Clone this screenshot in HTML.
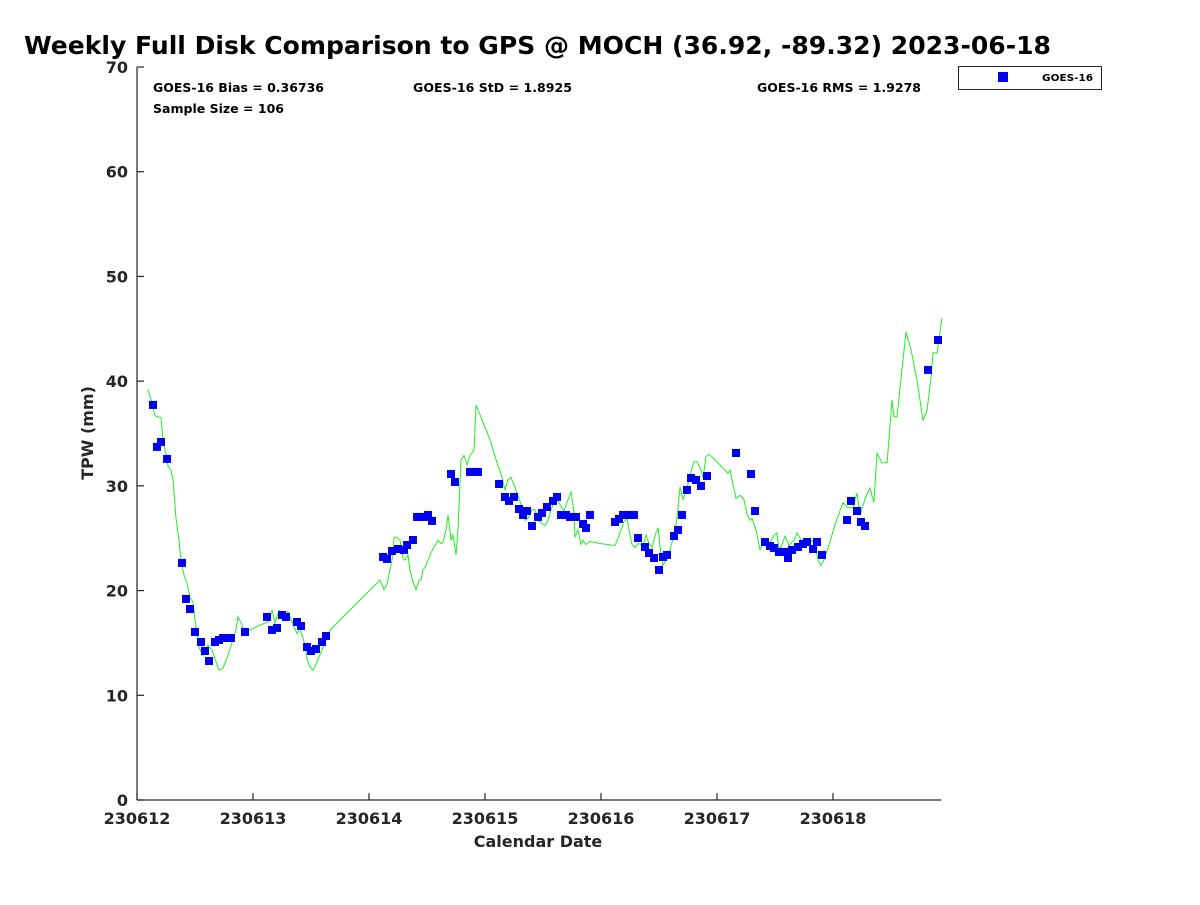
<!DOCTYPE html>
<html><head><meta charset="utf-8"><style>
body{margin:0;background:#fff;}
svg text{font-family:"DejaVu Sans","Liberation Sans",sans-serif;font-weight:bold;fill:#262626;}
</style></head><body>
<svg id="chart" width="1200" height="900" xmlns="http://www.w3.org/2000/svg">
<text x="24" y="54" font-size="25" textLength="1027" lengthAdjust="spacingAndGlyphs" style="fill:#000">Weekly Full Disk Comparison to GPS @ MOCH (36.92, -89.32) 2023-06-18</text>
<text x="153" y="92" font-size="12.5" textLength="171" lengthAdjust="spacingAndGlyphs" style="fill:#000">GOES-16 Bias = 0.36736</text>
<text x="413" y="92" font-size="12.5" textLength="159" lengthAdjust="spacingAndGlyphs" style="fill:#000">GOES-16 StD = 1.8925</text>
<text x="757" y="92" font-size="12.5" textLength="164" lengthAdjust="spacingAndGlyphs" style="fill:#000">GOES-16 RMS = 1.9278</text>
<text x="153" y="113" font-size="12.5" textLength="131" lengthAdjust="spacingAndGlyphs" style="fill:#000">Sample Size = 106</text>
<g>
<rect x="958.5" y="66.5" width="143" height="23" fill="#fff" stroke="#262626" stroke-width="1"/>
<rect x="998" y="72" width="10" height="10" fill="#0000ee"/>
<text x="1042" y="81" font-size="10" textLength="51" lengthAdjust="spacingAndGlyphs" style="fill:#000">GOES-16</text>
</g>
<g id="axes"></g>
<g id="plot"></g>
<text x="538" y="847" font-size="16" text-anchor="middle">Calendar Date</text>
<text x="0" y="0" font-size="16" text-anchor="middle" transform="translate(93,433) rotate(-90)">TPW (mm)</text>
</svg>
<script>
const xTickLabels=["230612","230613","230614","230615","230616","230617","230618"];
const yTicks=[0,10,20,30,40,50,60,70];
const gpsDay=[0.095,0.129,0.155,0.207,0.224,0.250,0.267,0.293,0.310,0.336,0.362,0.379,0.405,0.431,0.457,0.483,0.509,0.534,0.569,0.612,0.647,0.681,0.707,0.741,0.784,0.853,0.871,0.905,0.931,1.060,1.129,1.164,1.190,1.224,1.259,1.302,1.336,1.379,1.405,1.448,1.466,1.491,1.517,1.552,1.586,1.629,1.664,1.750,1.922,2.095,2.129,2.155,2.172,2.198,2.216,2.241,2.267,2.293,2.310,2.336,2.353,2.379,2.405,2.431,2.448,2.466,2.483,2.509,2.534,2.569,2.595,2.621,2.638,2.664,2.681,2.698,2.707,2.724,2.750,2.767,2.793,2.819,2.845,2.871,2.905,2.922,2.957,3.043,3.095,3.147,3.172,3.198,3.224,3.250,3.293,3.328,3.345,3.371,3.405,3.431,3.457,3.517,3.543,3.569,3.595,3.621,3.647,3.681,3.716,3.741,3.767,3.776,3.802,3.828,3.845,3.871,3.905,3.991,4.121,4.147,4.198,4.224,4.250,4.267,4.293,4.319,4.362,4.388,4.414,4.440,4.466,4.491,4.517,4.534,4.560,4.595,4.629,4.655,4.681,4.707,4.733,4.767,4.802,4.828,4.862,4.879,4.905,4.931,4.983,5.043,5.095,5.112,5.138,5.164,5.198,5.233,5.259,5.284,5.302,5.336,5.371,5.405,5.431,5.457,5.491,5.517,5.534,5.560,5.586,5.621,5.664,5.690,5.716,5.750,5.784,5.819,5.845,5.871,5.897,5.922,5.966,6.017,6.086,6.129,6.172,6.190,6.207,6.233,6.284,6.319,6.353,6.379,6.422,6.466,6.509,6.526,6.552,6.629,6.672,6.724,6.776,6.810,6.845,6.862,6.897,6.940];
const gpsTpw=[39.2,37.9,36.7,36.5,34.4,33.0,31.9,31.5,30.6,26.9,24.8,22.9,21.5,20.7,19.3,18.9,16.4,14.6,13.8,14.8,14.3,13.2,12.4,12.6,13.8,16.2,17.5,16.7,16.0,16.7,17.0,18.1,16.9,18.1,17.2,18.0,17.0,15.9,16.4,14.8,13.4,12.7,12.4,13.2,14.1,15.3,16.2,17.2,19.1,21.0,20.1,20.6,21.6,22.9,25.1,25.1,24.8,23.1,22.9,23.4,22.0,20.8,20.1,21.0,21.0,22.0,22.2,22.9,23.6,24.3,24.8,24.5,24.6,25.8,27.2,25.8,24.8,25.3,23.4,25.8,32.5,32.9,32.0,32.9,33.4,37.7,36.8,34.4,32.5,30.8,29.6,30.6,30.8,30.1,28.8,27.7,26.7,26.9,27.7,27.7,26.7,26.2,26.7,27.7,28.4,28.7,28.2,27.6,28.7,29.4,27.5,25.1,25.8,24.4,24.8,24.4,24.7,24.5,24.3,25.0,26.6,26.9,25.3,24.4,24.1,24.5,24.3,25.3,24.5,24.1,25.3,26.0,23.4,22.4,22.9,23.9,25.3,26.9,29.9,28.7,29.4,31.0,32.3,32.3,31.5,30.8,32.8,33.0,32.5,31.8,31.2,31.5,30.1,28.8,29.1,28.7,27.3,26.7,26.9,25.8,23.9,24.8,24.4,24.6,25.3,25.5,23.9,24.4,25.2,24.3,24.8,25.5,25.0,24.2,24.3,24.8,24.3,22.9,22.4,22.9,24.4,26.3,28.4,27.9,27.9,28.7,29.3,27.2,29.0,29.8,28.4,33.1,32.2,32.2,38.2,36.6,36.6,44.7,43.0,40.1,36.3,37.2,40.3,42.7,42.7,46.0];
const goesDay=[0.138,0.172,0.207,0.259,0.388,0.422,0.457,0.500,0.552,0.586,0.621,0.672,0.707,0.741,0.776,0.810,0.931,1.121,1.164,1.207,1.250,1.284,1.379,1.414,1.466,1.500,1.543,1.595,1.629,2.121,2.155,2.198,2.250,2.302,2.328,2.379,2.414,2.448,2.483,2.509,2.543,2.707,2.741,2.871,2.905,2.940,3.121,3.172,3.207,3.250,3.293,3.328,3.362,3.405,3.457,3.491,3.534,3.586,3.621,3.655,3.698,3.733,3.784,3.845,3.871,3.905,4.121,4.155,4.190,4.224,4.259,4.284,4.319,4.379,4.414,4.457,4.500,4.534,4.569,4.629,4.664,4.698,4.741,4.776,4.819,4.862,4.914,5.164,5.293,5.328,5.414,5.457,5.491,5.534,5.578,5.612,5.647,5.698,5.741,5.776,5.828,5.862,5.905,6.121,6.155,6.207,6.241,6.276,6.819,6.905];
const goesTpw=[37.73,33.72,34.19,32.57,22.64,19.20,18.24,16.05,15.09,14.23,13.27,15.09,15.28,15.47,15.47,15.47,16.05,17.48,16.24,16.43,17.67,17.48,17.00,16.62,14.61,14.23,14.42,15.09,15.66,23.21,23.02,23.78,23.97,23.88,24.35,24.83,27.03,27.03,27.03,27.22,26.65,31.13,30.37,31.33,31.33,31.33,30.18,28.94,28.56,28.94,27.79,27.22,27.60,26.17,27.03,27.41,27.98,28.56,28.94,27.22,27.22,27.03,27.03,26.36,25.98,27.22,26.55,26.84,27.22,27.22,27.22,27.22,25.02,24.16,23.59,23.11,21.97,23.21,23.40,25.21,25.79,27.22,29.61,30.75,30.56,29.99,30.94,33.14,31.13,27.60,24.64,24.26,24.07,23.69,23.69,23.11,23.88,24.16,24.45,24.64,23.97,24.64,23.40,26.74,28.56,27.60,26.55,26.17,41.07,43.93];
const NS="http://www.w3.org/2000/svg";
const X0=137,DAYPX=116,XMAX=941,Y0=800,MMPX=733/70;
function xs(d){return X0+d*DAYPX;}
function ys(v){return Y0-v*MMPX;}
const axes=document.getElementById('axes'),plot=document.getElementById('plot');
function mk(tag,attrs,parent){const e=document.createElementNS(NS,tag);for(const k in attrs)e.setAttribute(k,attrs[k]);parent.appendChild(e);return e;}
let a=mk('line',{x1:X0,y1:ys(70),x2:X0,y2:Y0,stroke:'#262626','stroke-width':1.2},axes);


a=mk('line',{x1:X0,y1:Y0,x2:XMAX,y2:Y0,stroke:'#262626','stroke-width':1.2},axes);


yTicks.forEach(v=>{
 const t=mk('line',{x1:X0,y1:ys(v),x2:X0+7,y2:ys(v),stroke:'#262626','stroke-width':1.2},axes);
 
 
 const l=mk('text',{x:X0-9,y:ys(v)+6,'font-size':16,'text-anchor':'end'},axes);
 l.textContent=v;
 
 
});
xTickLabels.forEach((s,i)=>{
 const t=mk('line',{x1:xs(i),y1:Y0,x2:xs(i),y2:Y0-7,stroke:'#262626','stroke-width':1.2},axes);
 
 
 const l=mk('text',{x:xs(i),y:Y0+24,'font-size':16,'text-anchor':'middle'},axes);
 l.textContent=s;
 
 
});
const pts=gpsDay.map((d,i)=>xs(d).toFixed(1)+','+ys(gpsTpw[i]).toFixed(1)).join(' ');
const pl=mk('polyline',{points:pts,fill:'none',stroke:'#22ee22','stroke-width':1},plot);


goesDay.forEach((d,i)=>{
 const r=mk('rect',{x:xs(d)-4,y:ys(goesTpw[i])-4,width:8,height:8,fill:'#0000ee'},plot);
 
 
});
</script>
</body></html>
